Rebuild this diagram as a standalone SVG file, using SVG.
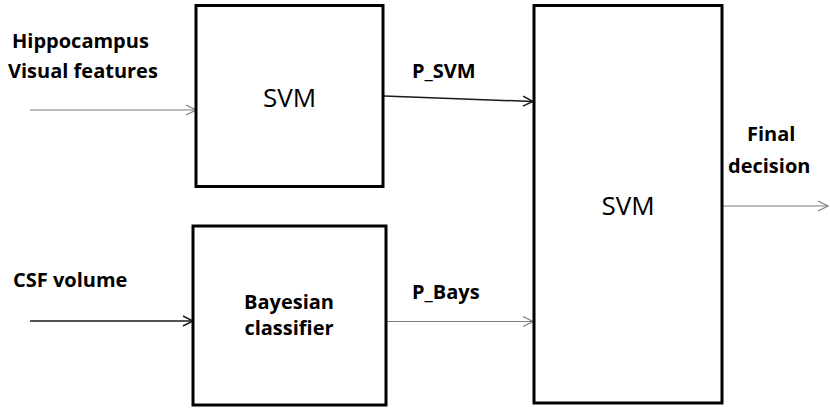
<svg xmlns="http://www.w3.org/2000/svg" width="830" height="409" viewBox="0 0 830 409">
<style>
.box{fill:#fff;stroke:#000;stroke-width:3}
.lbl{font-family:"Open Sans","Noto Sans",sans-serif;font-weight:700;font-size:20px;fill:#000}
.big{font-family:"Open Sans","Noto Sans",sans-serif;font-weight:400;font-size:26px;fill:#000;text-anchor:middle}
.gray{stroke:#7f7f7f;stroke-width:1.2;fill:none}
.dark{stroke:#1a1a1a;stroke-width:1.5;fill:none}
</style>
<defs>
<marker id="ag" markerWidth="12" markerHeight="12" refX="11" refY="6" orient="auto" markerUnits="userSpaceOnUse">
<path d="M1,1 L11,6 L1,11" fill="none" stroke="#7f7f7f" stroke-width="1.2"/>
</marker>
<marker id="ad" markerWidth="12" markerHeight="12" refX="11" refY="6" orient="auto" markerUnits="userSpaceOnUse">
<path d="M1,1 L11,6 L1,11" fill="none" stroke="#1a1a1a" stroke-width="1.5"/>
</marker>
</defs>
<rect width="830" height="409" fill="#fff"/>
<g id="connectors">
<line class="gray" x1="30" y1="110" x2="196" y2="110" marker-end="url(#ag)"/>
<line class="dark" x1="30" y1="321" x2="193" y2="321" marker-end="url(#ad)"/>
<line class="dark" x1="384" y1="96" x2="533" y2="101.5" marker-end="url(#ad)"/>
<line class="gray" x1="386" y1="321.5" x2="533" y2="321.5" marker-end="url(#ag)"/>
<line class="gray" x1="722" y1="206" x2="828" y2="206" marker-end="url(#ag)"/>
</g>
<g id="input-hippocampus">
<text class="lbl" x="12" y="48">Hippocampus</text>
<text class="lbl" x="8" y="78">Visual features</text>
</g>
<g id="input-csf">
<text class="lbl" x="13" y="287">CSF volume</text>
</g>
<g id="svm1">
<rect class="box" x="196" y="5.5" width="187" height="181"/>
<text class="big" x="289.5" y="107">SVM</text>
</g>
<g id="bayes">
<rect class="box" x="193" y="226" width="193" height="179"/>
<text class="lbl" x="289" y="309" text-anchor="middle">Bayesian</text>
<text class="lbl" x="289" y="335" text-anchor="middle">classifier</text>
</g>
<g id="svm-final">
<rect class="box" x="534" y="5.5" width="188" height="397.5"/>
<text class="big" x="628" y="215">SVM</text>
</g>
<g id="label-psvm"><text class="lbl" x="412" y="78">P_SVM</text></g>
<g id="label-pbays"><text class="lbl" x="412" y="299">P_Bays</text></g>
<g id="label-final">
<text class="lbl" x="747" y="141">Final</text>
<text class="lbl" x="728" y="173">decision</text>
</g>
</svg>
